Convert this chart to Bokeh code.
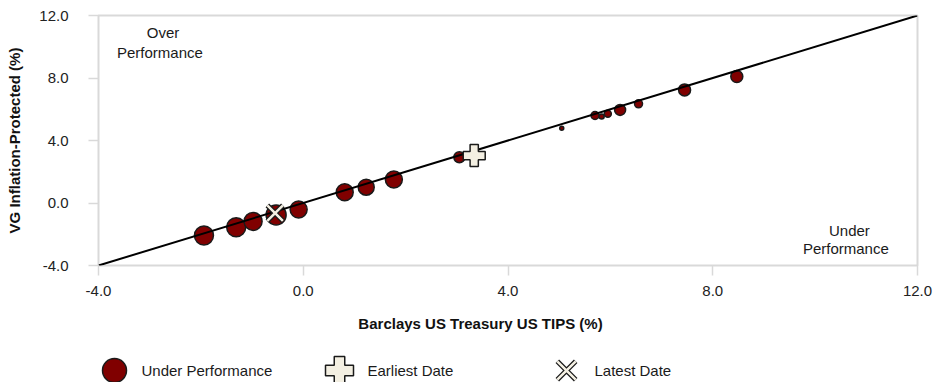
from bokeh.plotting import figure
from bokeh.models import ColumnDataSource, FixedTicker, NumeralTickFormatter, Label, Range1d
from bokeh.layouts import column
from bokeh.embed import file_html
from bokeh.resources import INLINE
from bokeh.core.properties import value

# ---- data ----
benchmark_return = [-1.94, -1.31, -0.98, -0.53, -0.09, 0.81, 1.23, 1.77, 3.05, 3.51,
                    5.05, 5.70, 5.83, 5.95, 6.19, 6.55, 7.45, 8.47]
fund_return = [-2.08, -1.55, -1.18, -0.76, -0.42, 0.69, 1.01, 1.50, 2.93, 3.10,
               4.79, 5.60, 5.54, 5.71, 5.96, 6.35, 7.24, 8.10]
bubble_weight = [19, 19, 18, 20, 17, 17, 16, 17, 11, 3, 4, 8, 5, 7, 11, 8, 12, 12]
earliest_x = [3.34]
earliest_y = [3.04]
latest_x = [-0.55]
latest_y = [-0.65]
diagonal = [-4.0, 12.0]
axis_ticks = [-4, 0, 4, 8, 12]
x_title = "Barclays US Treasury US TIPS (%)"
y_title = "VG Inflation-Protected (%)"
legend_labels = ["Under Performance", "Earliest Date", "Latest Date"]

FONT = "Liberation Sans"
FS = "15px"
MAROON = "#800000"
CREAM = "#f3efe2"
DARK = "#1a1a1a"
GRAY = "#d9d9d9"

p = figure(width=933, height=305, x_range=Range1d(-4, 12), y_range=Range1d(-4, 12),
           output_backend="svg", toolbar_location=None,
           min_border_left=98, min_border_right=16, min_border_top=15, min_border_bottom=40)
p.xgrid.visible = False
p.ygrid.visible = False
p.outline_line_color = GRAY
p.outline_line_width = 2
p.background_fill_color = "white"
p.border_fill_color = "white"

for ax in (p.xaxis[0], p.yaxis[0]):
    ax.ticker = FixedTicker(ticks=axis_ticks)
    ax.formatter = NumeralTickFormatter(format="0.0")
    ax.axis_line_color = None
    ax.major_tick_line_color = GRAY
    ax.major_tick_line_width = 1.5
    ax.major_tick_out = 10
    ax.major_tick_in = 0
    ax.minor_tick_line_color = None
    ax.major_label_text_font = FONT
    ax.major_label_text_font_size = FS
    ax.major_label_text_color = "#222222"
    ax.axis_label_text_font = FONT
    ax.axis_label_text_font_size = FS
    ax.axis_label_text_font_style = "bold"
    ax.axis_label_text_color = "#111111"

p.xaxis.major_label_standoff = 10
p.yaxis.axis_label = y_title
p.yaxis.major_label_standoff = 20
p.yaxis.axis_label_standoff = 13

src = ColumnDataSource(dict(x=benchmark_return, y=fund_return, s=bubble_weight))
p.scatter(x="x", y="y", size="s", source=src, marker="circle",
          fill_color=MAROON, line_color=DARK, line_width=1.5)
p.line(diagonal, diagonal, line_color="black", line_width=2)

p.scatter(earliest_x, earliest_y, marker="plus", size=22,
          fill_color=CREAM, line_color=DARK, line_width=1.5)
p.scatter(latest_x, latest_y, marker="x", size=22, line_color=DARK, line_width=5)
p.scatter(latest_x, latest_y, marker="x", size=22, line_color=CREAM, line_width=2.5)

def add_label(x, y, t):
    p.add_layout(Label(x=x, y=y, text=t, text_align="center", text_baseline="middle",
                       text_font=FONT, text_font_size=FS, text_color=DARK))

add_label(-2.74, 10.94, "Over")
add_label(-2.80, 9.66, "Performance")
add_label(10.67, -1.76, "Under")
add_label(10.60, -2.91, "Performance")

# ---- strip below: x-axis title + legend (frame aligned with main frame: 98..917 px) ----
lf = figure(width=933, height=77, x_range=Range1d(98, 917), y_range=Range1d(0, 77),
            output_backend="svg", toolbar_location=None, min_border=0,
            x_axis_location=None, y_axis_location=None, outline_line_color=None)
lf.xgrid.visible = False
lf.ygrid.visible = False
lf.border_fill_color = "white"

lf.text(x=[480], y=[59], text=[x_title], text_font=value(FONT), text_font_size=FS,
        text_font_style="bold", text_color="#111111", text_baseline="middle",
        text_align="center")

mk_x = [114, 339, 566]
tx_x = [141, 367, 594]
ly = 12
lf.scatter([mk_x[0]], [ly], marker="circle", size=24, fill_color=MAROON,
           line_color=DARK, line_width=1.5)
lf.scatter([mk_x[1]], [ly], marker="plus", size=28, fill_color=CREAM,
           line_color=DARK, line_width=1.5)
lf.scatter([mk_x[2]], [ly], marker="x", size=26, line_color=DARK, line_width=5)
lf.scatter([mk_x[2]], [ly], marker="x", size=26, line_color=CREAM, line_width=2.5)
lf.text(x=tx_x, y=[ly] * 3, text=legend_labels, text_font=value(FONT),
        text_font_size=FS, text_color=DARK, text_baseline="middle", text_align="left")

layout = column(p, lf, spacing=0)
open("out.html", "w").write(file_html(layout, INLINE))
